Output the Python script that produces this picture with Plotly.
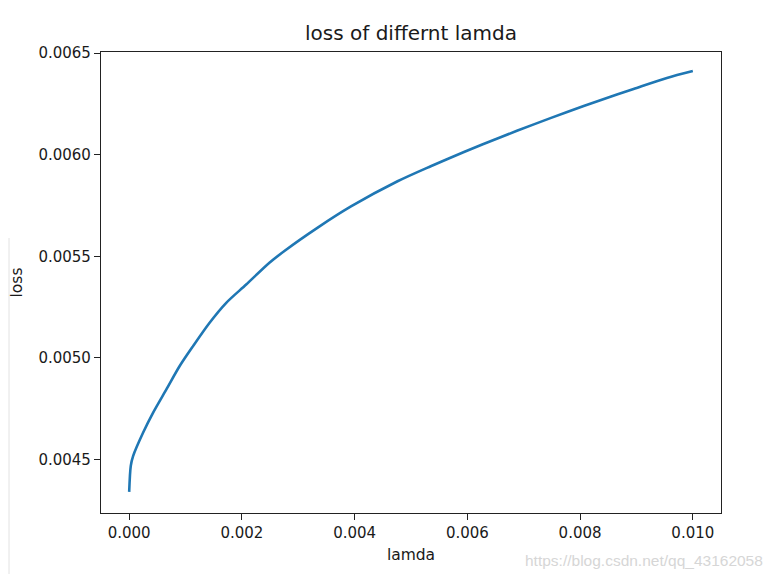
import plotly.graph_objects as go

# data
lamda = [0.0, 0.0000283, 0.0000708, 0.000248, 0.000425, 0.000660, 0.000896, 0.001133,
         0.001427, 0.001722, 0.002076, 0.002488, 0.002754, 0.003345, 0.003935, 0.004761,
         0.005350, 0.005940, 0.006589, 0.007179, 0.007770, 0.008359, 0.008949, 0.009540,
         0.010000]
loss = [0.004341, 0.004469, 0.004518, 0.004633, 0.004731, 0.004845, 0.004960, 0.005058,
        0.005173, 0.005271, 0.005361, 0.005468, 0.005526, 0.005641, 0.005745, 0.005869,
        0.005943, 0.006013, 0.006086, 0.006149, 0.006210, 0.006268, 0.006323, 0.006377,
        0.006411]

x_ticks = [0.000, 0.002, 0.004, 0.006, 0.008, 0.010]
x_tick_labels = ["0.000", "0.002", "0.004", "0.006", "0.008", "0.010"]
y_ticks = [0.0045, 0.0050, 0.0055, 0.0060, 0.0065]
y_tick_labels = ["0.0045", "0.0050", "0.0055", "0.0060", "0.0065"]

FONT = "DejaVu Sans, Liberation Sans, sans-serif"

# page body has an 8px margin, so the figure starts at (8, 8)
W, H = 766, 566
L, T = 93, 44
PW, PH = 620, 461

fig = go.Figure()
fig.add_trace(go.Scatter(
    x=lamda, y=loss, mode="lines",
    line=dict(color="#1f77b4", width=2.6, shape="spline", smoothing=0.8),
    showlegend=False, hoverinfo="skip",
))

fig.update_layout(
    width=W, height=H,
    margin=dict(l=L, r=W - L - PW, t=T, b=H - T - PH),
    paper_bgcolor="white", plot_bgcolor="white",
    font=dict(family=FONT, size=15, color="#1a1a1a"),
    title=dict(text="loss of differnt lamda", x=(L + PW / 2) / W, xanchor="center",
               y=1 - 25 / H, yanchor="middle", font=dict(size=20, color="#1a1a1a")),
    xaxis=dict(
        range=[-0.0005, 0.0105], tickvals=x_ticks, ticktext=x_tick_labels,
        showgrid=False, zeroline=False, showline=True, linecolor="#222", linewidth=1.2,
        mirror=True, ticks="outside", ticklen=6, tickwidth=1.2, tickcolor="#222",
        automargin=False,
        title=dict(text="lamda", standoff=8, font=dict(size=15.5)),
    ),
    yaxis=dict(
        range=[0.004237, 0.006505], tickvals=y_ticks, ticktext=y_tick_labels,
        showgrid=False, zeroline=False, showline=True, linecolor="#222", linewidth=1.2,
        mirror=True, ticks="outside", ticklen=6, tickwidth=1.2, tickcolor="#222",
        automargin=False,
        title=dict(text="loss", standoff=15, font=dict(size=15.5)),
    ),
    shapes=[dict(type="line", xref="paper", yref="paper",
                 x0=(1 - L) / PW, x1=(1 - L) / PW,
                 y0=(T + PH - 230) / PH, y1=(T + PH - H) / PH,
                 line=dict(color="#e2e2e2", width=1))],
    annotations=[dict(text="https://blog.csdn.net/qq_43162058", xref="paper", yref="paper",
                      x=(757 - L) / PW, y=(T + PH - 552) / PH, xanchor="right", yanchor="middle",
                      showarrow=False,
                      font=dict(family="Liberation Sans, Arial, sans-serif", size=15.5, color="#d6d6d6"))],
)

fig.write_html("out.html")
